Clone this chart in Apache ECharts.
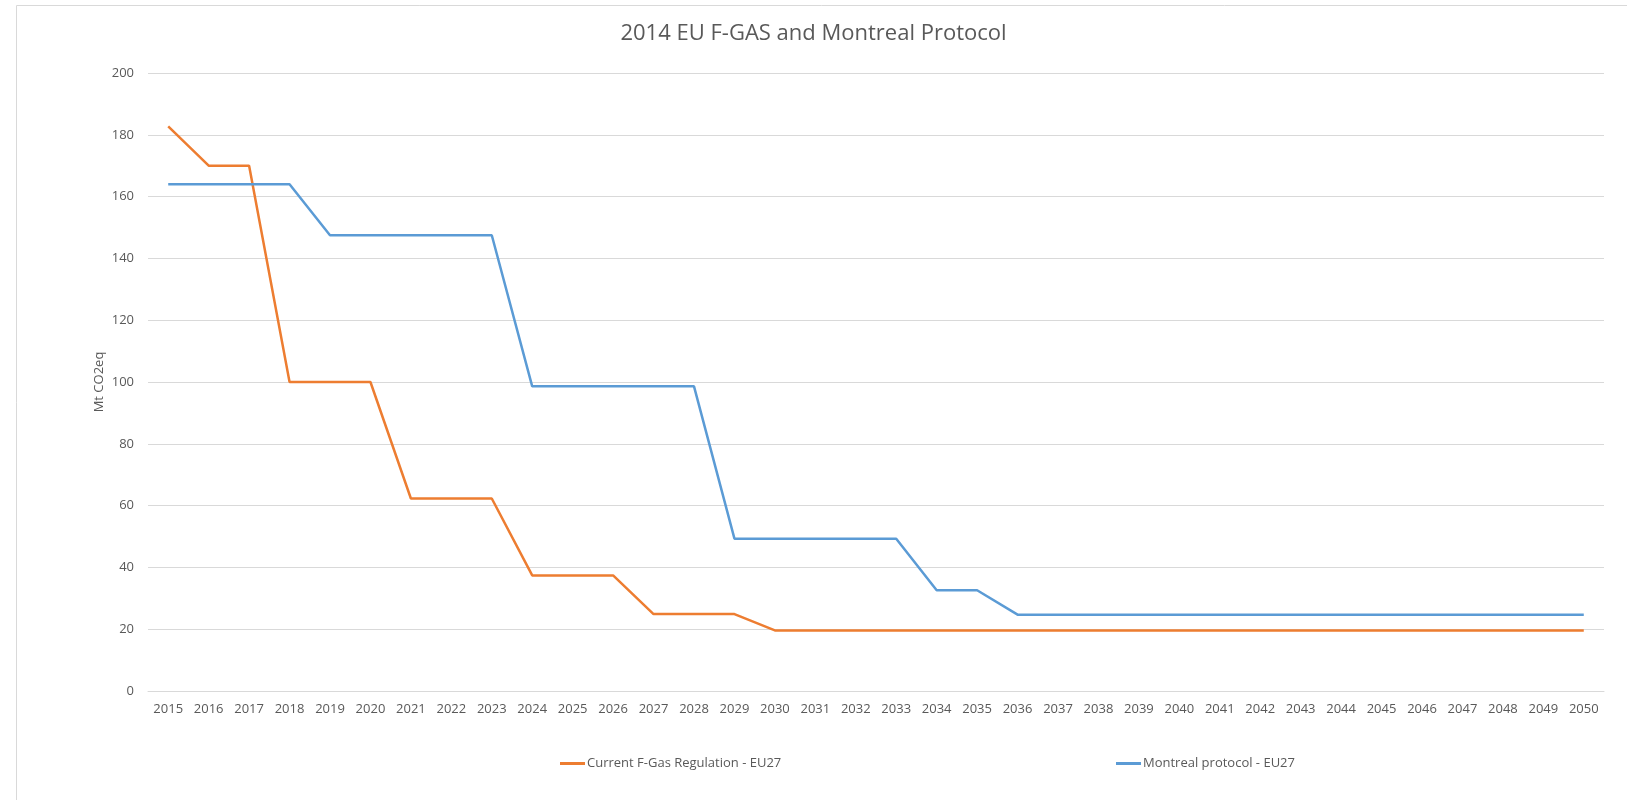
<!DOCTYPE html>
<html>
<head>
<meta charset="utf-8">
<title>2014 EU F-GAS and Montreal Protocol</title>
<script src="https://cdn.jsdelivr.net/npm/echarts@6/dist/echarts.min.js"></script>
<style>
  html, body { margin: 0; padding: 0; background: #fff; }
  #chart { width: 1627px; height: 800px; }
</style>
</head>
<body>
<div id="chart"></div>
<script>
const years = [
  '2015', '2016', '2017', '2018', '2019', '2020', '2021', '2022', '2023',
  '2024', '2025', '2026', '2027', '2028', '2029', '2030', '2031', '2032',
  '2033', '2034', '2035', '2036', '2037', '2038', '2039', '2040', '2041',
  '2042', '2043', '2044', '2045', '2046', '2047', '2048', '2049', '2050'
]

// Current F-Gas Regulation - EU27
const fgasValues = [
  182.7, 170, 170, 100, 100, 100, 62.3, 62.3, 62.3,
  37.4, 37.4, 37.4, 24.9, 24.9, 24.9, 19.6, 19.6, 19.6,
  19.6, 19.6, 19.6, 19.6, 19.6, 19.6, 19.6, 19.6, 19.6,
  19.6, 19.6, 19.6, 19.6, 19.6, 19.6, 19.6, 19.6, 19.6
]

// Montreal protocol - EU27
const montrealValues = [
  164, 164, 164, 164, 147.5, 147.5, 147.5, 147.5, 147.5,
  98.6, 98.6, 98.6, 98.6, 98.6, 49.3, 49.3, 49.3, 49.3,
  49.3, 32.6, 32.6, 24.7, 24.7, 24.7, 24.7, 24.7, 24.7,
  24.7, 24.7, 24.7, 24.7, 24.7, 24.7, 24.7, 24.7, 24.7
]

const fgasName = 'Current F-Gas Regulation - EU27'
const montrealName = 'Montreal protocol - EU27'

const textColor = '#595959'
const gridColor = '#d9d9d9'
const font = 'Open Sans'

const chart = echarts.init(document.getElementById('chart'))

const legendStyle = {
  top: 757,
  padding: 0,
  icon: 'rect',
  itemWidth: 25,
  itemHeight: 3,
  textStyle: { fontFamily: font, fontSize: 13, color: textColor, padding: [0, 0, 0, -3] }
}

chart.setOption({
  animation: false,
  textStyle: { fontFamily: font },
  title: {
    text: '2014 EU F-GAS and Montreal Protocol',
    left: 'center',
    top: 18,
    textStyle: {
      fontFamily: font,
      fontSize: 22,
      fontWeight: 'normal',
      color: textColor
    }
  },
  legend: [
    Object.assign({ data: [fgasName], left: 560 }, legendStyle),
    Object.assign({ data: [montrealName], left: 1116 }, legendStyle)
  ],
  grid: {
    left: 148,
    right: 23,
    top: 73,
    bottom: 109
  },
  xAxis: {
    type: 'category',
    data: years,
    boundaryGap: true,
    axisLine: { lineStyle: { color: gridColor, width: 1 } },
    axisTick: { show: false },
    axisLabel: {
      color: textColor,
      fontFamily: font,
      fontSize: 13,
      margin: 12,
      interval: 0
    }
  },
  yAxis: {
    type: 'value',
    min: 0,
    max: 200,
    interval: 20,
    name: 'Mt CO2eq',
    nameLocation: 'middle',
    nameRotate: 90,
    nameGap: 42,
    nameMoveOverlap: false,
    nameTextStyle: { color: textColor, fontFamily: font, fontSize: 13 },
    axisLine: { show: false },
    axisTick: { show: false },
    axisLabel: {
      color: textColor,
      fontFamily: font,
      fontSize: 13,
      margin: 14
    },
    splitLine: { lineStyle: { color: gridColor, width: 1 } }
  },
  series: [
    {
      name: fgasName,
      type: 'line',
      data: fgasValues,
      showSymbol: false,
      symbol: 'none',
      lineStyle: { color: '#ED7D31', width: 2.5 },
      itemStyle: { color: '#ED7D31' }
    },
    {
      name: montrealName,
      type: 'line',
      data: montrealValues,
      showSymbol: false,
      symbol: 'none',
      lineStyle: { color: '#5B9BD5', width: 2.5 },
      itemStyle: { color: '#5B9BD5' }
    }
  ],
  graphic: [
    {
      // chart area border (top and left edges only visible)
      type: 'polyline',
      silent: true,
      shape: { points: [[16.5, 800], [16.5, 5.5], [1627, 5.5]] },
      style: { stroke: gridColor, lineWidth: 1, fill: null }
    }
  ]
})
</script>
</body>
</html>
